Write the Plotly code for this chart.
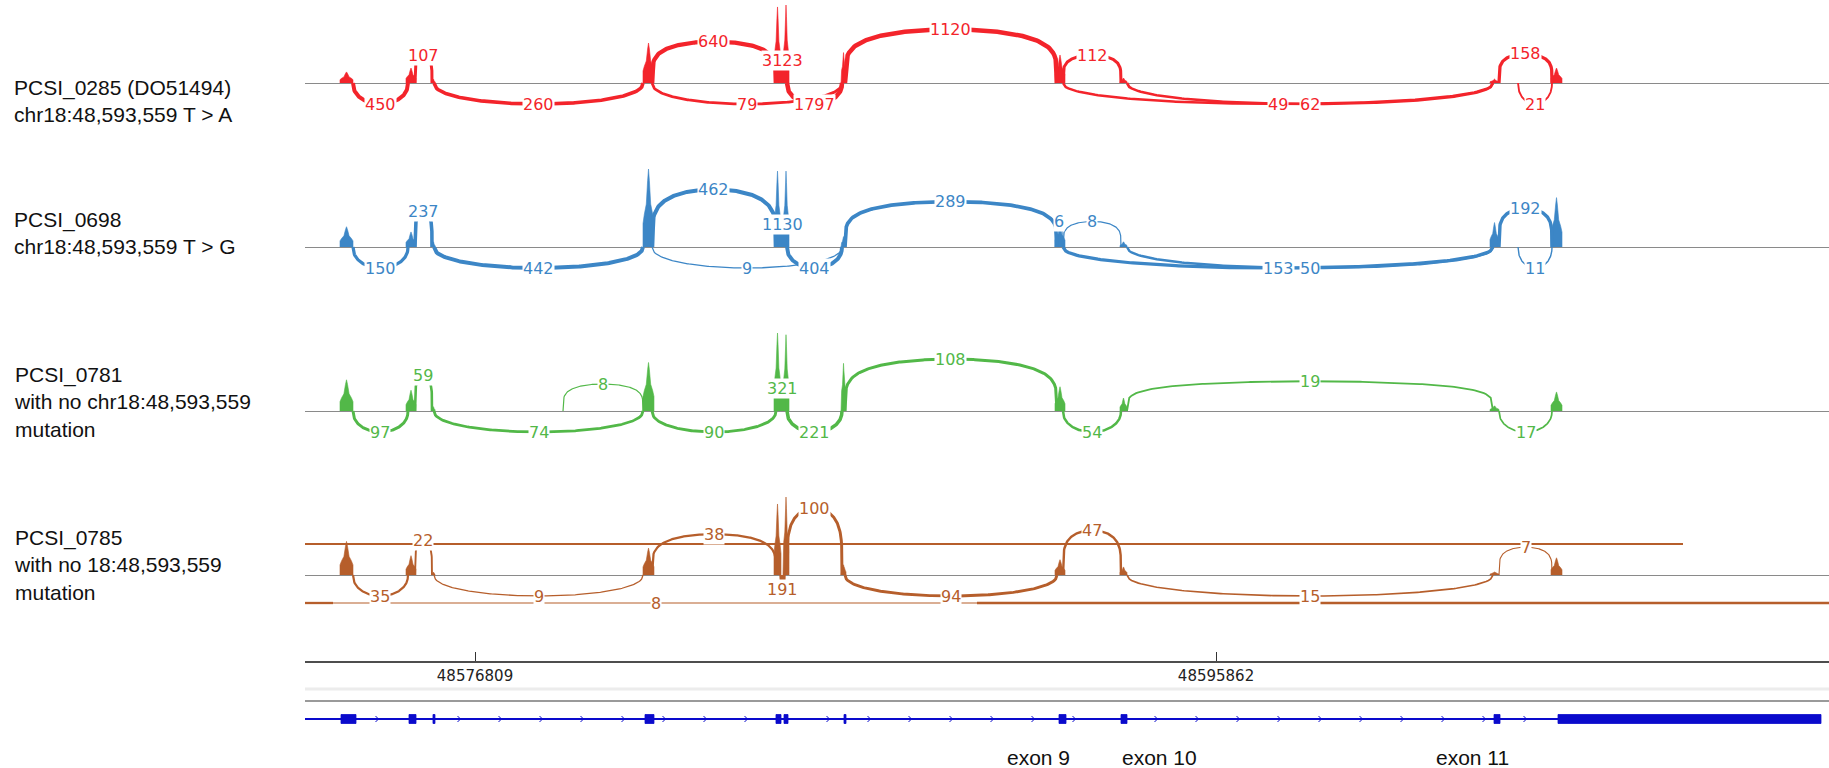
import numpy as np
import plotly.graph_objects as go

# ---------------------------------------------------------------- window
FIG_W, FIG_H = 1829, 768
PLOT_LEFT = 305                      # left edge of the genome panel (px)
VIEW = [48572438, 48611623]          # chr18 window shown
RULER_TICKS = [48576809, 48595862]
BP_PER_PX = (VIEW[1] - VIEW[0]) / (FIG_W - PLOT_LEFT)

# ---------------------------------------------------------------- gene model
exon_start = [48573364, 48575112, 48575729, 48581180, 48584548, 48584754,
              48586297, 48591825, 48593419, 48603010, 48604655]
exon_end = [48573749, 48575292, 48575780, 48581411, 48584677, 48584857,
            48586348, 48592005, 48593573, 48603164, 48611417]
exon_label_text = ["exon 9", "exon 10", "exon 11"]
exon_label_pos = [48591285, 48594396, 48602444]

# ---------------------------------------------------------------- coverage bins (exonic read piles)
cov_start = [48573338, 48575035, 48575703, 48581129, 48584497, 48584728,
             48586220, 48591722, 48593393, 48602907, 48604475]
cov_end = [48573672, 48575292, 48575780, 48581411, 48584677, 48584883,
           48586348, 48591979, 48593573, 48603138, 48604758]

cov_0285 = [510, 690, 180, 1840, 3500, 3590, 1400, 1290, 230, 180, 690]
cov_0698 = [390, 290, 100, 1500, 1460, 1460, 200, 430, 100, 470, 950]
cov_0781 = [180, 120, 25, 280, 450, 440, 275, 140, 75, 30, 110]
cov_0785 = [125, 72, 11, 100, 264, 290, 38, 57, 30, 11, 64]

# ---------------------------------------------------------------- splice junctions
jx_start_0285 = [48573672, 48575266, 48575755, 48581360, 48581360, 48584677, 48584831,
                 48586322, 48591928, 48591928, 48593573, 48603138, 48603627]
jx_end_0285 = [48575086, 48575703, 48581129, 48584548, 48586245, 48584754, 48586245,
               48591773, 48593419, 48602984, 48602984, 48604501, 48604501]
jx_count_0285 = [450, 107, 260, 640, 79, 3123, 1797, 1120, 112, 49, 62, 158, 21]
jx_above_0285 = [0, 1, 0, 1, 0, 1, 0, 1, 1, 0, 0, 1, 0]

jx_start_0698 = [48573672, 48575266, 48575755, 48581360, 48581360, 48584677, 48584831,
                 48586322, 48591722, 48591928, 48591928, 48593573, 48603138, 48603627]
jx_end_0698 = [48575086, 48575703, 48581129, 48584548, 48586245, 48584754, 48586245,
               48591773, 48591928, 48593419, 48602984, 48602984, 48604501, 48604501]
jx_count_0698 = [150, 237, 442, 462, 9, 1130, 404, 289, 6, 8, 153, 50, 192, 11]
jx_above_0698 = [0, 1, 0, 1, 0, 1, 0, 1, 1, 1, 0, 0, 1, 0]

jx_start_0781 = [48573672, 48575266, 48575755, 48579072, 48581360, 48584677, 48584831,
                 48586322, 48591928, 48593573, 48603138]
jx_end_0781 = [48575086, 48575703, 48581129, 48581129, 48584548, 48584754, 48586245,
               48591773, 48593419, 48602984, 48604501]
jx_count_0781 = [97, 59, 74, 8, 90, 321, 221, 108, 54, 19, 17]
jx_above_0781 = [0, 1, 0, 1, 0, 1, 0, 1, 0, 1, 0]

jx_start_0785 = [48573672, 48575266, 48575755, 48581360, 48584677, 48584831,
                 48586322, 48591928, 48593573, 48603138]
jx_end_0785 = [48575086, 48575703, 48581129, 48584548, 48584754, 48586245,
               48591773, 48593419, 48602984, 48604501]
jx_count_0785 = [35, 22, 9, 38, 191, 100, 94, 47, 15, 7]
jx_above_0785 = [0, 1, 0, 1, 0, 1, 0, 1, 0, 1]

# long junctions whose anchors fall outside the window (visible stretch only)
far_from_0785 = [48572438, 48590051, 48572438, 48589716, 48572438]
far_to_0785 = [48598741, 48607869, 48590488, 48611623, 48573158]
far_count_0785 = [20, 20, 8, 40, 40]
far_above_0785 = [1, 1, 0, 0, 0]
far_labeled_0785 = [0, 0, 1, 0, 0]

sample_titles = [
    "PCSI_0285 (DO51494)<br>chr18:48,593,559 T > A",
    "PCSI_0698<br>chr18:48,593,559 T > G",
    "PCSI_0781<br>with no chr18:48,593,559<br>mutation",
    "PCSI_0785<br>with no 18:48,593,559<br>mutation",
]
track_colors = ["#f3242b", "#3c86c6", "#52b848", "#b65e2b"]

# track bands in px: (top, baseline, bottom)
track_px = [(0, 83, 138), (138, 247, 300), (300, 411, 466), (466, 575, 640)]
title_center_px = [100.5, 233, 402, 565]
gene_px = (640, 719, 768)
RULER_Y_PX = 662
COV_MAX_PX = 78

tracks = [
    dict(cov=cov_0285, s=jx_start_0285, e=jx_end_0285, c=jx_count_0285, a=jx_above_0285),
    dict(cov=cov_0698, s=jx_start_0698, e=jx_end_0698, c=jx_count_0698, a=jx_above_0698),
    dict(cov=cov_0781, s=jx_start_0781, e=jx_end_0781, c=jx_count_0781, a=jx_above_0781),
    dict(cov=cov_0785, s=jx_start_0785, e=jx_end_0785, c=jx_count_0785, a=jx_above_0785,
         far=(far_from_0785, far_to_0785, far_count_0785, far_above_0785, far_labeled_0785)),
]

prof_x = np.array([0, 0, .12, .3, .42, .5, .58, .7, .88, 1, 1])
prof_y = np.array([0, .3, .42, .55, .85, 1, .85, .55, .42, .3, 0])

LABEL_FONT = dict(family="DejaVu Sans", size=16)


def line_width(count):
    return float(np.clip(1.6 * np.log10(count) - 0.25, 1.0, 4.5))


def arc_height(x0, x1, count, cmax, above):
    span = (x1 - x0) / BP_PER_PX
    if above:
        return min(25 + 80 * count / cmax, 20 + 0.9 * span)
    return -min(21, 12 + span)


def arc_path(x0, x1, h):
    u = np.linspace(0, 1, 161)
    p = 0.22 if h > 0 else 0.45
    y = h * np.clip(1 - (2 * u - 1) ** 2, 0, 1) ** p
    return x0 + (x1 - x0) * u, y


fig = go.Figure()
annotations = []
layout_axes = {}

for i, (tr, col, (top, base, bot)) in enumerate(zip(tracks, track_colors, track_px)):
    yname = "y" if i == 0 else f"y{i + 1}"
    lname = "yaxis" if i == 0 else f"yaxis{i + 1}"
    layout_axes[lname] = dict(
        domain=[1 - bot / FIG_H, 1 - top / FIG_H], range=[base - bot, base - top],
        showticklabels=False, showgrid=False, ticks="", showline=False,
        zeroline=True, zerolinecolor="#8a8a8a", zerolinewidth=1, fixedrange=True,
    )

    # coverage piles
    depth = np.array(tr["cov"], dtype=float)
    scale = COV_MAX_PX / depth.max()
    xs, ys = [], []
    for s, e, d in zip(cov_start, cov_end, depth):
        xs += list(s + (e - s) * prof_x) + [None]
        ys += list(d * scale * prof_y) + [None]
    fig.add_trace(go.Scatter(x=xs, y=ys, yaxis=yname, mode="lines", fill="toself",
                             fillcolor=col, line=dict(color=col, width=0.6),
                             hoverinfo="skip", showlegend=False))

    # junction arcs
    cmax = max(tr["c"])
    for s, e, c, a in zip(tr["s"], tr["e"], tr["c"], tr["a"]):
        h = arc_height(s, e, c, cmax, a)
        ax, ay = arc_path(s, e, h)
        fig.add_trace(go.Scatter(x=ax, y=ay, yaxis=yname, mode="lines",
                                 line=dict(color=col, width=line_width(c)),
                                 hoverinfo="skip", showlegend=False))
        annotations.append(dict(x=(s + e) / 2, y=h, xref="x", yref=yname, text=str(c),
                                showarrow=False, font=dict(color=col, **LABEL_FONT),
                                bgcolor="white", borderpad=0))

    # junctions anchored outside the window
    if "far" in tr:
        for f0, f1, c, a, lab in zip(*tr["far"]):
            yy = 31 if a else -28
            fig.add_trace(go.Scatter(x=[f0, f1], y=[yy, yy], yaxis=yname, mode="lines",
                                     line=dict(color=col, width=line_width(c)),
                                     hoverinfo="skip", showlegend=False))
            if lab:
                annotations.append(dict(x=(f0 + f1) / 2, y=yy, xref="x", yref=yname,
                                        text=str(c), showarrow=False,
                                        font=dict(color=col, **LABEL_FONT),
                                        bgcolor="white", borderpad=0))

    annotations.append(dict(x=12 / FIG_W, y=1 - title_center_px[i] / FIG_H, xref="paper",
                            yref="paper", text=sample_titles[i], showarrow=False,
                            xanchor="left", yanchor="middle", align="left",
                            font=dict(family="Liberation Sans, Arial", size=21, color="#111111")))

# ---------------------------------------------------------------- gene model track
g_top, g_base, g_bot = gene_px
layout_axes["yaxis5"] = dict(domain=[0, 1 - g_top / FIG_H], range=[g_base - g_bot, g_base - g_top],
                             visible=False, fixedrange=True)
GENE_COL = "#0a0acc"
fig.add_trace(go.Scatter(x=[VIEW[0], exon_start[-1]], y=[0, 0], yaxis="y5", mode="lines",
                         line=dict(color=GENE_COL, width=2), hoverinfo="skip", showlegend=False))

# strand chevrons along introns
step = 41 * BP_PER_PX
chev_x, chev_y = [], []
pos = VIEW[0] + 32 * BP_PER_PX
while pos < exon_start[-1] - 6 * BP_PER_PX:
    near = any(s - 7 * BP_PER_PX < pos < e + 7 * BP_PER_PX for s, e in zip(exon_start, exon_end))
    if not near:
        chev_x += [pos - 2.5 * BP_PER_PX, pos + 0.5 * BP_PER_PX, pos - 2.5 * BP_PER_PX, None]
        chev_y += [3, 0, -3, None]
    pos += step
fig.add_trace(go.Scatter(x=chev_x, y=chev_y, yaxis="y5", mode="lines",
                         line=dict(color=GENE_COL, width=1), hoverinfo="skip", showlegend=False))

ex_x, ex_y = [], []
for s, e in zip(exon_start, exon_end):
    ex_x += [s, e, e, s, s, None]
    ex_y += [-4.5, -4.5, 4.5, 4.5, -4.5, None]
fig.add_trace(go.Scatter(x=ex_x, y=ex_y, yaxis="y5", mode="lines", fill="toself",
                         fillcolor=GENE_COL, line=dict(color=GENE_COL, width=0.8),
                         hoverinfo="skip", showlegend=False))

for txt, xp in zip(exon_label_text, exon_label_pos):
    annotations.append(dict(x=xp, y=1 - 757 / FIG_H, xref="x", yref="paper", text=txt,
                            showarrow=False, xanchor="center", yanchor="middle",
                            font=dict(family="Liberation Sans, Arial", size=21, color="#111111")))

shapes = [
    dict(type="line", xref="x domain", yref="paper", x0=0, x1=1,
         y0=1 - 689 / FIG_H, y1=1 - 689 / FIG_H, line=dict(color="#ececec", width=3)),
    dict(type="line", xref="x domain", yref="paper", x0=0, x1=1,
         y0=1 - 701 / FIG_H, y1=1 - 701 / FIG_H, line=dict(color="#9a9a9a", width=2)),
]

fig.update_layout(
    width=FIG_W, height=FIG_H, autosize=False,
    margin=dict(l=0, r=0, t=0, b=0),
    paper_bgcolor="white", plot_bgcolor="white",
    showlegend=False,
    xaxis=dict(domain=[PLOT_LEFT / FIG_W, 1], range=VIEW, anchor="free",
               position=1 - RULER_Y_PX / FIG_H, showline=True, linecolor="#4d4d4d",
               linewidth=2, ticks="inside", ticklen=9, tickwidth=1, tickcolor="#333333",
               tickvals=RULER_TICKS, ticktext=[str(t) for t in RULER_TICKS],
               tickfont=dict(family="DejaVu Sans", size=15, color="#222222"),
               showgrid=False, zeroline=False, fixedrange=True),
    annotations=annotations,
    shapes=shapes,
    **layout_axes,
)

fig.write_html("out.html")
